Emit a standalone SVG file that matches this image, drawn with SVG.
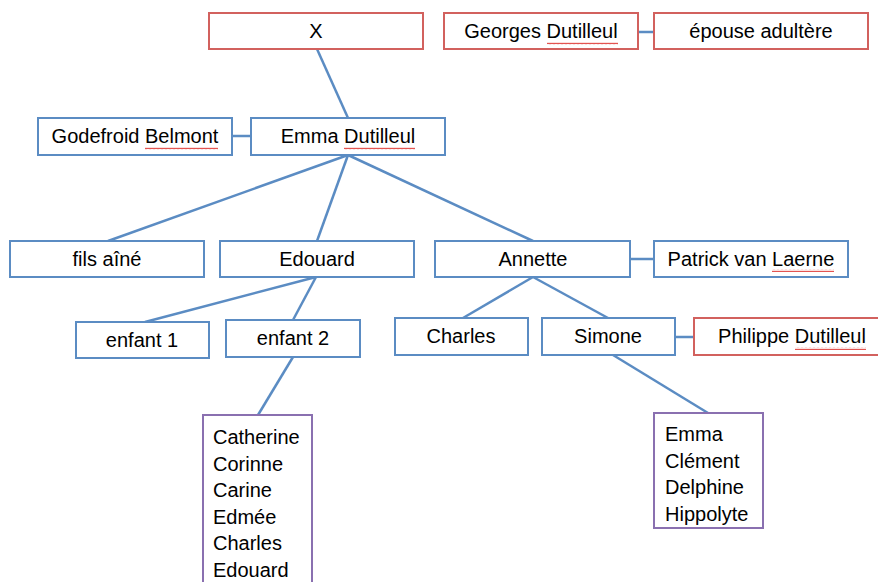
<svg xmlns="http://www.w3.org/2000/svg" width="878" height="582" viewBox="0 0 878 582">
<style>
  .b { fill: #fff; stroke: #5b8cc3; stroke-width: 2; }
  .r { fill: #fff; stroke: #d2615e; stroke-width: 2; }
  .p { fill: #fff; stroke: #8a70b0; stroke-width: 2; }
  .t { font-family: "Liberation Sans", Arial, sans-serif; font-size: 20px; fill: #000; text-anchor: middle; }
  .l { font-family: "Liberation Sans", Arial, sans-serif; font-size: 20px; fill: #000; }
  .c line { stroke: #5b8cc3; stroke-width: 2.5; }
  .sq { fill: url(#wave); }
</style>
<defs>
  <pattern id="wave" x="0" y="0" width="4" height="3" patternUnits="userSpaceOnUse">
    <path d="M0,2.2 L1,0.8 L2,2.2 L3,0.8 L4,2.2" fill="none" stroke="#e0403c" stroke-width="0.9"/>
  </pattern>
</defs>
<rect width="878" height="582" fill="#fff"/>
<g class="c" id="connectors">
  <line x1="317" y1="49" x2="348" y2="118"/>
  <line x1="638" y1="32" x2="654" y2="32"/>
  <line x1="232" y1="136" x2="251" y2="136"/>
  <line x1="348" y1="155" x2="108" y2="241"/>
  <line x1="348" y1="155" x2="317" y2="241"/>
  <line x1="348" y1="155" x2="533" y2="241"/>
  <line x1="630" y1="259" x2="654" y2="259"/>
  <line x1="316" y1="277" x2="145" y2="322"/>
  <line x1="316" y1="277" x2="293" y2="320"/>
  <line x1="533" y1="277" x2="463" y2="318"/>
  <line x1="533" y1="277" x2="608" y2="318"/>
  <line x1="675" y1="337" x2="694" y2="337"/>
  <line x1="293" y1="357" x2="258" y2="415"/>
  <line x1="613" y1="355" x2="708" y2="413"/>
</g>
<g id="n-x"><rect class="r" x="209" y="13" width="214" height="36"/><text class="t" x="316" y="38">X</text></g>
<g id="n-georges"><rect class="r" x="444" y="13" width="194" height="36"/><text class="t" x="541" y="38">Georges Dutilleul</text><rect class="sq" x="547" y="42" width="71" height="3"/></g>
<g id="n-epouse"><rect class="r" x="654" y="13" width="214" height="36"/><text class="t" x="761" y="38">épouse adultère</text></g>
<g id="n-godefroid"><rect class="b" x="38" y="118" width="194" height="37"/><text class="t" x="135" y="143">Godefroid Belmont</text><rect class="sq" x="145" y="147" width="73" height="3"/></g>
<g id="n-emma"><rect class="b" x="251" y="118" width="194" height="37"/><text class="t" x="348" y="143">Emma Dutilleul</text><rect class="sq" x="344" y="147" width="71" height="3"/></g>
<g id="n-fils"><rect class="b" x="10" y="241" width="194" height="36"/><text class="t" x="107" y="266">fils aîné</text></g>
<g id="n-edouard"><rect class="b" x="220" y="241" width="194" height="36"/><text class="t" x="317" y="266">Edouard</text></g>
<g id="n-annette"><rect class="b" x="435" y="241" width="195" height="36"/><text class="t" x="533" y="266">Annette</text></g>
<g id="n-patrick"><rect class="b" x="654" y="241" width="194" height="36"/><text class="t" x="751" y="266">Patrick van Laerne</text><rect class="sq" x="772" y="269" width="62" height="3"/></g>
<g id="n-enfant1"><rect class="b" x="76" y="322" width="133" height="36"/><text class="t" x="142" y="347">enfant 1</text></g>
<g id="n-enfant2"><rect class="b" x="226" y="320" width="134" height="37"/><text class="t" x="293" y="345">enfant 2</text></g>
<g id="n-charles"><rect class="b" x="395" y="318" width="133" height="37"/><text class="t" x="461" y="343">Charles</text></g>
<g id="n-simone"><rect class="b" x="542" y="318" width="133" height="37"/><text class="t" x="608" y="343">Simone</text></g>
<g id="n-philippe"><rect class="r" x="694" y="318" width="200" height="37"/><text class="t" x="792" y="343">Philippe Dutilleul</text><rect class="sq" x="795" y="347" width="71" height="3"/></g>
<g id="n-enfants2"><rect class="p" x="203" y="415" width="109" height="190"/>
  <text class="l" x="213" y="444">Catherine</text>
  <text class="l" x="213" y="471">Corinne</text>
  <text class="l" x="213" y="497">Carine</text>
  <text class="l" x="213" y="524">Edmée</text>
  <text class="l" x="213" y="550">Charles</text>
  <text class="l" x="213" y="577">Edouard</text>
</g>
<g id="n-enfantsSimone"><rect class="p" x="654" y="413" width="109" height="115"/>
  <text class="l" x="665" y="441">Emma</text>
  <text class="l" x="665" y="468">Clément</text>
  <text class="l" x="665" y="494">Delphine</text>
  <text class="l" x="665" y="521">Hippolyte</text>
</g>
</svg>
